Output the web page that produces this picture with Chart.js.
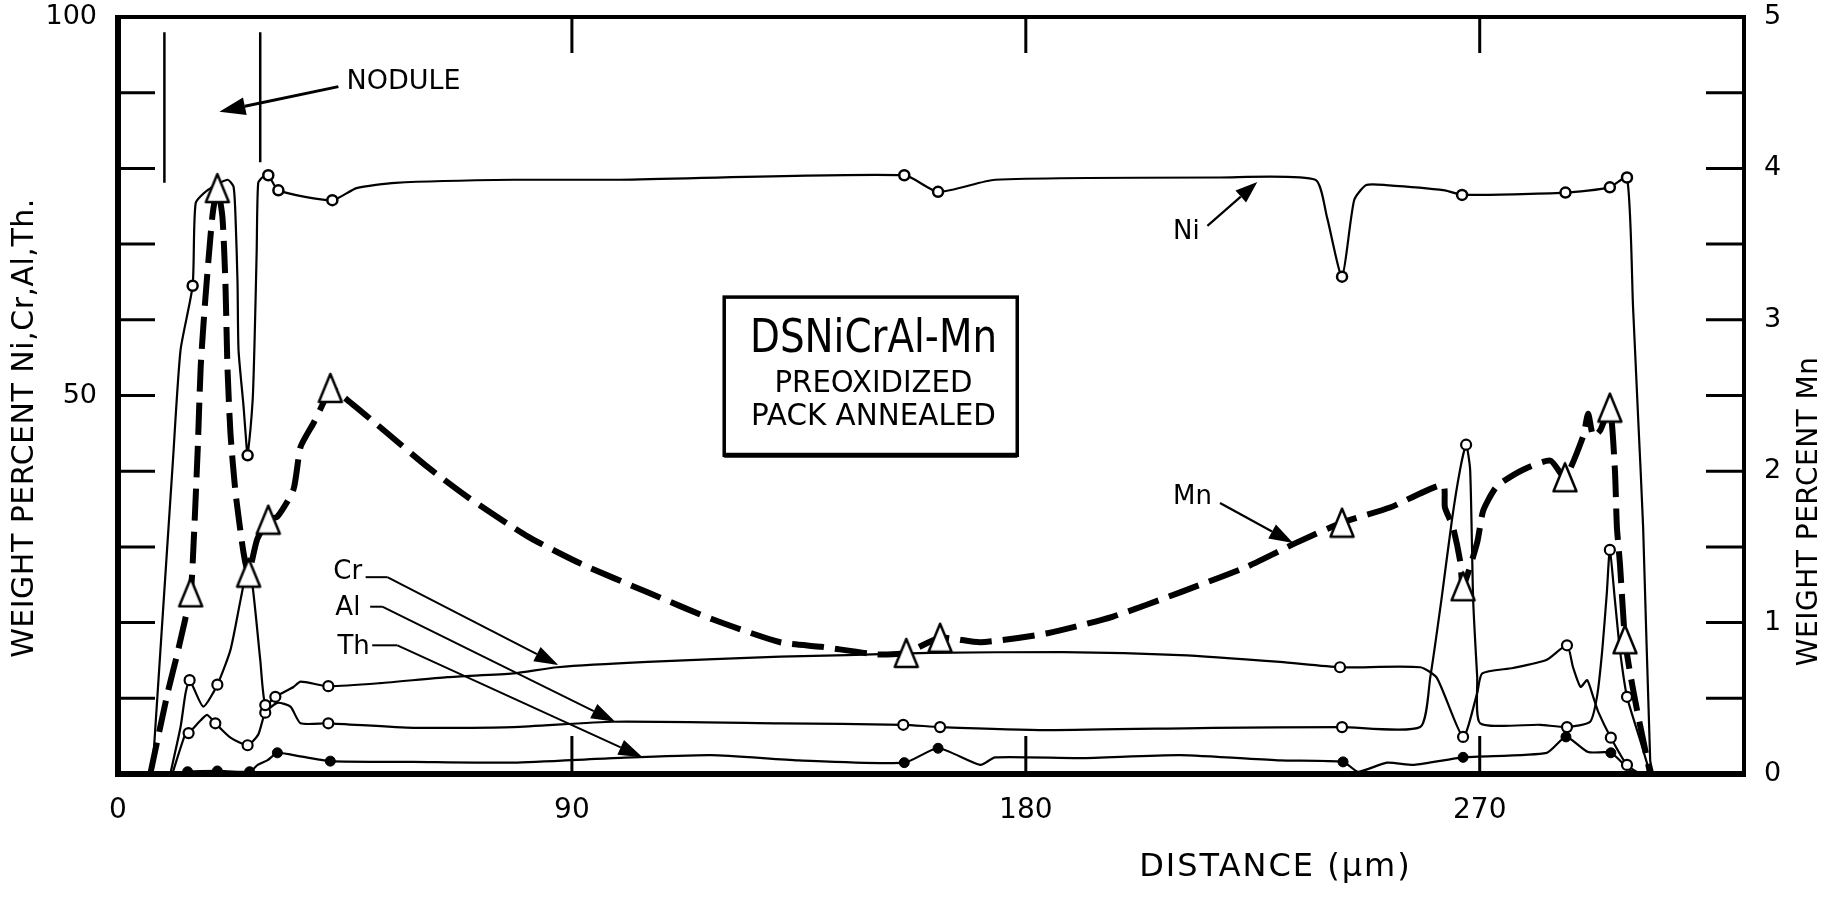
<!DOCTYPE html>
<html>
<head>
<meta charset="utf-8">
<script src="https://cdn.jsdelivr.net/npm/chart.js@4.4.1/dist/chart.umd.min.js"></script>
<style>
  html, body { margin: 0; padding: 0; background: #fff; }
  #wrap { width: 1828px; height: 899px; }
</style>
</head>
<body>
<div id="wrap"><canvas id="chart" width="1828" height="899"></canvas></div>
<script>
// distance (um) vs weight percent
const niTrace = [[6.8,0],[10.9,41.5],[12.4,56.0],[14.8,64.5],[15.4,75.4],[17.7,77.1],[21.7,78.5],[22.9,77.6],[23.3,73.6],[23.7,64.9],[23.9,56.0],[24.9,48.5],[25.5,43.2],[25.7,42.1],[26.7,49.4],[27.1,57.7],[27.5,69.2],[27.8,78.1],[28.8,78.9],[29.8,79.1],[31.8,77.1],[42.5,75.8],[47.3,77.4],[55.0,78.1],[78.6,78.5],[99.6,78.5],[155.9,79.1],[162.6,76.9],[173.9,78.5],[218.5,78.8],[237.4,78.5],[239.7,73.6],[242.7,65.7],[245.1,75.8],[247.5,77.8],[251.4,77.8],[263.1,77.1],[266.5,76.5],[287.0,76.8],[295.8,77.5],[299.2,78.8],[300.4,61.7],[301.4,47.2],[302.4,32.6],[303.8,1.8],[304.4,0]];
const niPoints = [[14.8,64.5],[25.7,42.1],[29.8,79.1],[31.8,77.1],[42.5,75.8],[155.9,79.1],[162.6,76.9],[242.7,65.7],[266.5,76.5],[287.0,76.8],[295.8,77.5],[299.2,78.8]];

const crTrace = [[10.4,0.1],[12.4,6.2],[13.4,10.7],[14.2,12.4],[16.9,8.9],[19.7,11.8],[22.3,16.4],[24.3,23.0],[25.7,27.2],[26.7,24.7],[28.2,15.1],[29.2,9.1],[31.2,10.2],[34.8,11.5],[36.2,12.2],[41.7,11.6],[52.0,12.0],[65.3,12.8],[78.4,13.3],[87.1,14.1],[105.0,14.8],[131.3,15.5],[144.6,15.7],[161.0,16.0],[187.4,16.1],[210.6,15.7],[230.4,14.8],[242.3,14.1],[258.2,14.1],[261.5,12.7],[266.7,4.9],[269.5,10.7],[270.5,13.3],[276.6,14.0],[283.3,15.1],[287.3,17.0],[288.5,14.1],[290.0,11.5],[291.3,12.4],[292.5,10.2],[293.5,8.2],[296.0,4.8],[299.2,1.2],[301.8,0]];
const crPoints = [[14.2,12.4],[19.7,11.8],[29.2,9.1],[31.2,10.2],[41.7,11.6],[242.3,14.1],[266.7,4.9],[287.3,17.0],[296.0,4.8],[299.2,1.2]];

const alTrace = [[10.8,0.1],[13.4,5.4],[14.0,5.4],[16.4,7.1],[17.7,7.8],[19.3,6.7],[22.3,4.8],[25.7,3.8],[27.8,5.2],[29.2,8.1],[31.6,9.4],[34.2,8.9],[36.2,6.7],[41.7,6.7],[58.6,6.1],[78.4,6.2],[98.2,6.9],[131.3,6.7],[155.7,6.5],[163.0,6.2],[184.2,5.8],[217.1,6.1],[242.7,6.2],[258.2,6.2],[260.2,12.8],[262.4,23.0],[264.5,33.6],[266.1,40.2],[267.3,43.5],[268.1,40.2],[268.7,23.0],[269.5,12.8],[270.1,6.7],[282.0,6.5],[287.3,6.2],[291.9,6.9],[293.3,10.4],[294.3,16.4],[295.2,23.9],[295.8,29.6],[296.8,23.0],[297.8,16.4],[299.2,10.2],[301.8,4.5],[303.8,0]];
const alPoints = [[14.0,5.4],[19.3,6.7],[25.7,3.8],[29.2,8.1],[41.7,6.7],[155.7,6.5],[163.0,6.2],[242.7,6.2],[267.3,43.5],[287.3,6.2],[295.8,29.6],[299.2,10.2]];

const thTrace = [[11.4,0],[13.8,0.3],[19.7,0.4],[26.1,0.3],[27.7,1.2],[29.6,1.8],[31.6,2.8],[34.8,2.5],[42.1,1.7],[58.6,1.6],[78.4,1.5],[98.2,2.1],[117.6,2.5],[134.9,1.8],[155.9,1.5],[162.6,3.4],[171.0,1.2],[173.9,2.2],[190.8,2.1],[210.6,2.5],[230.4,1.8],[242.9,1.6],[245.9,0.3],[251.6,1.5],[257.0,1.2],[266.7,2.2],[283.3,2.8],[287.1,4.9],[291.5,2.9],[296.0,2.8],[299.8,0.5],[301.8,0]];
const thPoints = [[13.8,0.3],[19.7,0.4],[26.1,0.3],[31.6,2.8],[42.1,1.7],[155.9,1.5],[162.6,3.4],[242.9,1.6],[266.7,2.2],[287.1,4.9],[296.0,2.8]];

// Mn is read on the right axis (0-5 wt%)
const mnTrace = [[6.4,0],[9.8,0.53],[11.8,0.80],[14.4,1.20],[15.0,1.53],[15.8,2.14],[16.4,2.69],[17.3,3.13],[18.7,3.68],[19.7,3.87],[20.7,3.68],[21.3,3.24],[21.7,2.69],[22.3,2.25],[23.3,1.86],[24.9,1.46],[25.9,1.33],[27.6,1.55],[29.8,1.68],[31.6,1.70],[34.8,1.88],[36.2,2.16],[38.8,2.32],[40.7,2.45],[42.1,2.55],[45.5,2.47],[52.0,2.29],[61.3,2.03],[69.3,1.83],[81.2,1.57],[91.7,1.39],[105.0,1.20],[118.0,1.02],[131.3,0.87],[139.5,0.84],[150.6,0.79],[156.3,0.80],[163.0,0.90],[171.0,0.87],[184.3,0.93],[197.3,1.04],[210.6,1.20],[223.9,1.37],[233.8,1.53],[242.7,1.66],[252.2,1.76],[262.7,1.91],[263.1,1.76],[264.7,1.63],[266.1,1.41],[266.7,1.24],[269.5,1.53],[270.7,1.74],[273.4,1.90],[278.6,2.01],[284.0,2.07],[286.9,1.96],[290.5,2.23],[291.5,2.38],[292.5,2.23],[293.9,2.27],[295.8,2.42],[296.8,2.01],[297.2,1.63],[297.8,1.39],[298.8,0.89],[299.8,0.67],[301.2,0.42],[303.8,0]];
const mnPoints = [[14.4,1.20],[19.7,3.87],[25.9,1.33],[29.8,1.68],[42.1,2.55],[156.3,0.80],[163.0,0.90],[242.7,1.66],[266.7,1.24],[286.9,1.96],[295.8,2.42],[298.8,0.89]];

// nodule boundary markers
const noduleLeft = [[9.2,98.0],[9.2,78.1]];
const noduleRight = [[28.2,98.0],[28.2,80.8]];

const xTickValues = [0, 90, 180, 270];
const leftLabelValues = [50, 100];

const FONT = '"DejaVu Sans", "Liberation Sans", sans-serif';
const xy = arr => arr.map(p => ({ x: p[0], y: p[1] }));

function triangleImage() {
    const c = document.createElement('canvas');
    c.width = 28; c.height = 32;
    const g = c.getContext('2d');
    g.lineWidth = 2.5; g.lineJoin = 'round';
    g.strokeStyle = '#000'; g.fillStyle = '#fff';
    g.beginPath(); g.moveTo(14, 2); g.lineTo(25.5, 30); g.lineTo(2.5, 30); g.closePath();
    g.fill(); g.stroke();
    return c;
}

function arrow(ctx, x1, y1, x2, y2, len, half, lw) {
    const ang = Math.atan2(y2 - y1, x2 - x1);
    const bx = x2 - len * Math.cos(ang), by = y2 - len * Math.sin(ang);
    ctx.lineWidth = lw;
    ctx.beginPath(); ctx.moveTo(x1, y1); ctx.lineTo(bx, by); ctx.stroke();
    ctx.beginPath();
    ctx.moveTo(x2, y2);
    ctx.lineTo(bx + half * Math.sin(ang), by - half * Math.cos(ang));
    ctx.lineTo(bx - half * Math.sin(ang), by + half * Math.cos(ang));
    ctx.closePath(); ctx.fill();
}

const frameAndNotes = {
    id: 'frameAndNotes',
    afterDatasetsDraw(chart) {
        const { ctx, chartArea: a, scales: { x, y, y2 } } = chart;
        const px = v => x.getPixelForValue(v), py = v => y.getPixelForValue(v);
        ctx.save();
        ctx.strokeStyle = '#000'; ctx.fillStyle = '#000';

        // frame
        ctx.lineWidth = 6;
        ctx.beginPath(); ctx.moveTo(a.left, a.top - 2); ctx.lineTo(a.left, a.bottom + 3);
        ctx.moveTo(a.left - 3, a.bottom); ctx.lineTo(a.right + 2, a.bottom); ctx.stroke();
        ctx.lineWidth = 4;
        ctx.beginPath(); ctx.moveTo(a.left, a.top); ctx.lineTo(a.right, a.top);
        ctx.moveTo(a.right, a.top - 2); ctx.lineTo(a.right, a.bottom); ctx.stroke();

        // inward tick marks
        ctx.lineWidth = 3;
        ctx.beginPath();
        y.ticks.forEach(t => { if (t.value > 0 && t.value < 100) { const p = py(t.value); ctx.moveTo(a.left, p); ctx.lineTo(a.left + 37, p); } });
        y2.ticks.forEach(t => { if (t.value > 0 && t.value < 5) { const p = y2.getPixelForValue(t.value); ctx.moveTo(a.right - 38, p); ctx.lineTo(a.right, p); } });
        x.ticks.forEach(t => { if (t.value > 0) { const p = px(t.value); ctx.moveTo(p, a.top); ctx.lineTo(p, a.top + 36); ctx.moveTo(p, a.bottom); ctx.lineTo(p, a.bottom - 38); } });
        ctx.stroke();

        // axis titles
        ctx.textAlign = 'center'; ctx.textBaseline = 'middle';
        ctx.font = '30px ' + FONT;
        ctx.letterSpacing = '0.5px';
        ctx.save(); ctx.translate(a.left - 93, py(45.7)); ctx.rotate(-Math.PI / 2);
        ctx.fillText('WEIGHT PERCENT Ni,Cr,Al,Th.', 0, 0); ctx.restore();
        ctx.font = '28px ' + FONT;
        ctx.save(); ctx.translate(a.right + 66, py(34.7)); ctx.rotate(-Math.PI / 2);
        ctx.fillText('WEIGHT PERCENT Mn', 0, 0); ctx.restore();
        ctx.font = '32px ' + FONT;
        ctx.letterSpacing = '2px';
        ctx.fillText('DISTANCE (\u03BCm)', px(229.5), a.bottom + 94);
        ctx.letterSpacing = '0px';

        // nodule label
        ctx.textAlign = 'left';
        ctx.font = '27px ' + FONT;
        ctx.fillText('NODULE', px(45.3), py(91.4), 122);
        arrow(ctx, px(43.7), py(90.8), px(20.1), py(87.5), 26, 9, 3);

        // element labels
        ctx.font = '26px ' + FONT;
        ctx.fillText('Ni', px(209.2), py(71.5));
        arrow(ctx, px(216.0), py(72.4), px(225.9), py(78.2), 22, 8, 2.2);
        ctx.fillText('Mn', px(209.2), py(36.5));
        arrow(ctx, px(218.5), py(35.8), px(233.0), py(30.5), 24, 8, 2.2);

        const leaders = [
            ['Cr', 42.7, 26.6, 49.1, 53.4, 26.0, 87.3, 14.4],
            ['Al', 43.1, 21.9, 50.0, 52.4, 22.1, 98.6, 6.9],
            ['Th', 43.5, 16.8, 50.4, 55.4, 17.0, 104.0, 2.2]
        ];
        leaders.forEach(([s, tx, ty, h0, h1, hy, ax, ay]) => {
            ctx.fillText(s, px(tx), py(ty));
            ctx.lineWidth = 2;
            ctx.beginPath(); ctx.moveTo(px(h0), py(hy)); ctx.lineTo(px(h1), py(hy)); ctx.stroke();
            arrow(ctx, px(h1), py(hy), px(ax), py(ay), 24, 8, 2);
        });

        // specimen box
        const bl = px(120.2), br = px(178.3), bt = py(63.0), bb = py(42.1);
        ctx.fillStyle = '#fff'; ctx.fillRect(bl, bt, br - bl, bb - bt);
        ctx.fillStyle = '#000';
        ctx.lineWidth = 3.5; ctx.strokeRect(bl, bt, br - bl, bb - bt);
        ctx.lineWidth = 5; ctx.beginPath(); ctx.moveTo(bl, bb); ctx.lineTo(br, bb); ctx.stroke();
        ctx.textAlign = 'center';
        const cx = px(149.8);
        ctx.font = '46px ' + FONT;
        ctx.fillText('DSNiCrAl-Mn', cx, py(57.3), 247);
        ctx.font = '31px ' + FONT;
        ctx.fillText('PREOXIDIZED', cx, py(51.5), 198);
        ctx.fillText('PACK ANNEALED', cx, py(47.1), 245);
        ctx.restore();
    }
};

const tri = triangleImage();
const thin = 2.2;

new Chart(document.getElementById('chart').getContext('2d'), {
    type: 'scatter',
    data: {
        datasets: [
            { label: 'Mn pts', data: xy(mnPoints), yAxisID: 'y2', pointStyle: tri, pointRadius: 14, showLine: false },
            { label: 'Ni pts', data: xy(niPoints), pointStyle: 'circle', pointRadius: 5, borderWidth: 2.5, borderColor: '#000', backgroundColor: '#fff', showLine: false },
            { label: 'Cr pts', data: xy(crPoints), pointStyle: 'circle', pointRadius: 5, borderWidth: 2.2, borderColor: '#000', backgroundColor: '#fff', showLine: false },
            { label: 'Al pts', data: xy(alPoints), pointStyle: 'circle', pointRadius: 5, borderWidth: 2.2, borderColor: '#000', backgroundColor: '#fff', showLine: false },
            { label: 'Th pts', data: xy(thPoints), pointStyle: 'circle', pointRadius: 5, borderWidth: 1, borderColor: '#000', backgroundColor: '#000', showLine: false },
            { label: 'Mn', data: xy(mnTrace), yAxisID: 'y2', showLine: true, pointRadius: 0, borderColor: '#000', borderWidth: 6, borderDash: [32, 11], tension: 0.2 },
            { label: 'Ni', data: xy(niTrace), showLine: true, pointRadius: 0, borderColor: '#000', borderWidth: thin, tension: 0.2 },
            { label: 'Cr', data: xy(crTrace), showLine: true, pointRadius: 0, borderColor: '#000', borderWidth: thin, tension: 0.2 },
            { label: 'Al', data: xy(alTrace), showLine: true, pointRadius: 0, borderColor: '#000', borderWidth: thin, tension: 0.2 },
            { label: 'Th', data: xy(thTrace), showLine: true, pointRadius: 0, borderColor: '#000', borderWidth: thin, tension: 0.2 },
            { label: 'nodule L', data: xy(noduleLeft), showLine: true, pointRadius: 0, borderColor: '#000', borderWidth: 2.5 },
            { label: 'nodule R', data: xy(noduleRight), showLine: true, pointRadius: 0, borderColor: '#000', borderWidth: 2.5 }
        ]
    },
    options: {
        responsive: false,
        animation: false,
        events: [],
        layout: { padding: { top: 17, left: 0, right: 0, bottom: 0 } },
        plugins: { legend: { display: false }, tooltip: { enabled: false } },
        scales: {
            x: {
                type: 'linear', min: 0, max: 322.4,
                afterBuildTicks: s => { s.ticks = xTickValues.map(v => ({ value: v })); },
                afterFit: s => { s.height = 125; s.paddingLeft = 0; s.paddingRight = 0; },
                grid: { display: false, drawTicks: false },
                border: { display: false },
                ticks: { color: '#000', font: { family: FONT, size: 28 }, padding: 20, autoSkip: false, maxRotation: 0, callback: v => String(v) }
            },
            y: {
                type: 'linear', position: 'left', min: 0, max: 100,
                afterFit: s => { s.width = 118; s.paddingTop = 0; s.paddingBottom = 0; },
                grid: { display: false, drawTicks: false },
                border: { display: false },
                ticks: { stepSize: 10, color: '#000', font: { family: FONT, size: 27 }, padding: 21, callback: v => leftLabelValues.includes(v) ? String(v) : '' }
            },
            y2: {
                type: 'linear', position: 'right', min: 0, max: 5,
                afterFit: s => { s.width = 84; s.paddingTop = 0; s.paddingBottom = 0; },
                grid: { display: false, drawTicks: false },
                border: { display: false },
                ticks: { stepSize: 0.5, color: '#000', font: { family: FONT, size: 27 }, padding: 20, callback: v => Number.isInteger(v) ? String(v) : '' }
            }
        }
    },
    plugins: [frameAndNotes]
});
</script>
</body>
</html>
